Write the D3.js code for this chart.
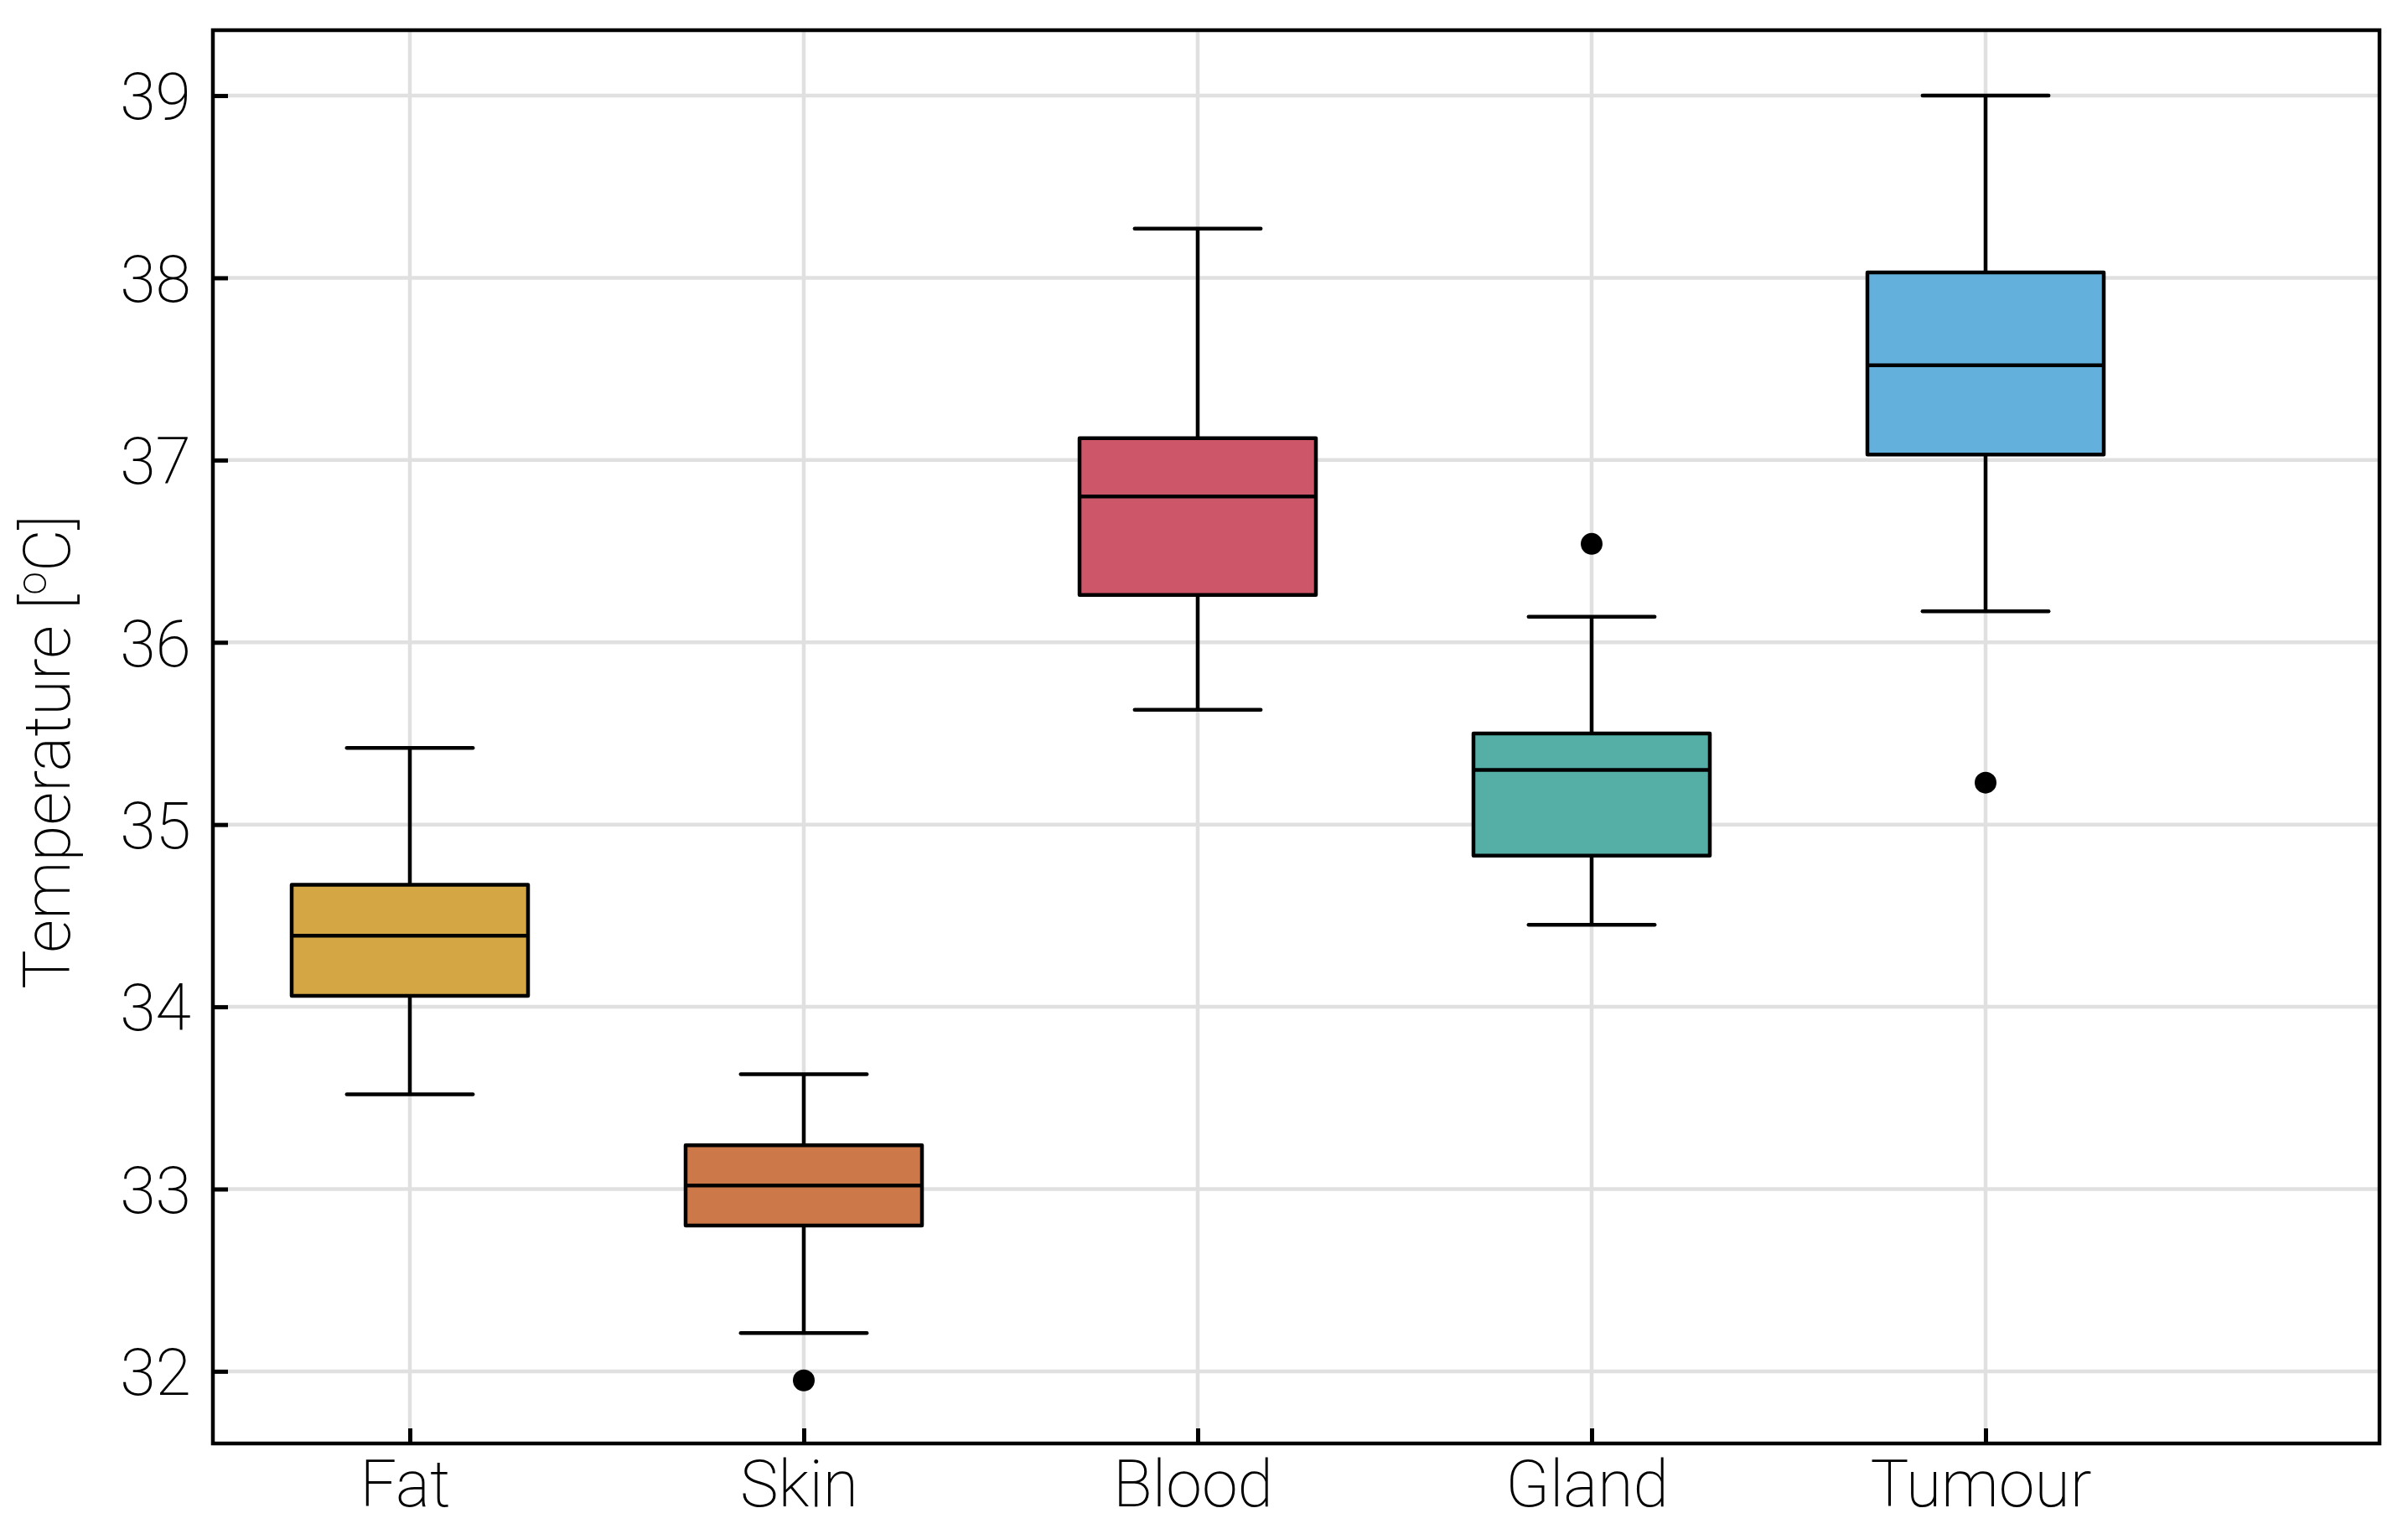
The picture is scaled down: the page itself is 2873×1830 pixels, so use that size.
<!DOCTYPE html>
<html>
<head>
<meta charset="utf-8">
<script src="https://cdn.jsdelivr.net/npm/d3@7"></script>
<style>
  body { margin: 0; background: #fff; }
  text { font-family: Roboto, "Liberation Sans", sans-serif; font-weight: 200; fill: #000; }
</style>
</head>
<body>
<svg id="chart"></svg>
<script>
// Box plot data
const categories = ["Fat", "Skin", "Blood", "Gland", "Tumour"];
const lowerWhisker = [33.52, 32.21, 35.63, 34.45, 36.17];
const q1 = [34.06, 32.80, 36.26, 34.83, 37.03];
const median = [34.39, 33.02, 36.80, 35.30, 37.52];
const q3 = [34.67, 33.24, 37.12, 35.50, 38.03];
const upperWhisker = [35.42, 33.63, 38.27, 36.14, 39.00];
const outliers = [[], [31.95], [], [36.54], [35.23]];
const yTicks = [32, 33, 34, 35, 36, 37, 38, 39];

const palette = ["#D5A644", "#CD7849", "#CD5668", "#55AFA7", "#63B0DD"];

const W = 2873, H = 1830;
const frame = { left: 254, right: 2839, top: 36, bottom: 1722 };

const svg = d3.select("#chart")
    .attr("width", W)
    .attr("height", H);

// Scales: categories placed at 1..5 on a linear axis
const x = d3.scaleLinear().domain([0.5, 6]).range([frame.left, frame.right]);
const y = d3.scaleLinear().domain([31.604, 39.359]).range([frame.bottom, frame.top]);
const color = d3.scaleOrdinal().domain(categories).range(palette);

const boxes = categories.map((c, i) => ({
    name: c, pos: i + 1,
    lo: lowerWhisker[i], q1: q1[i], med: median[i], q3: q3[i], hi: upperWhisker[i],
    out: outliers[i]
}));

const boxHalf = 0.3, capHalf = 0.16;
const lw = 4.5;

// Grid lines
svg.append("g").selectAll("line")
    .data(yTicks)
    .enter().append("line")
    .attr("x1", frame.left).attr("x2", frame.right)
    .attr("y1", d => y(d)).attr("y2", d => y(d))
    .attr("stroke", "#e0e0e0").attr("stroke-width", 4.5);

svg.append("g").selectAll("line")
    .data(boxes)
    .enter().append("line")
    .attr("x1", d => x(d.pos)).attr("x2", d => x(d.pos))
    .attr("y1", frame.top).attr("y2", frame.bottom)
    .attr("stroke", "#e0e0e0").attr("stroke-width", 4.5);

// Boxes
const g = svg.append("g").selectAll("g")
    .data(boxes)
    .enter().append("g");

g.append("line") // whisker stem
    .attr("x1", d => x(d.pos)).attr("x2", d => x(d.pos))
    .attr("y1", d => y(d.lo)).attr("y2", d => y(d.hi))
    .attr("stroke", "#000").attr("stroke-width", lw);

g.selectAll(".cap")
    .data(d => [d.lo, d.hi].map(v => ({ pos: d.pos, v })))
    .enter().append("line")
    .attr("class", "cap")
    .attr("x1", d => x(d.pos - capHalf)).attr("x2", d => x(d.pos + capHalf))
    .attr("y1", d => y(d.v)).attr("y2", d => y(d.v))
    .attr("stroke", "#000").attr("stroke-width", lw)
    .attr("stroke-linecap", "round");

g.append("rect")
    .attr("x", d => x(d.pos - boxHalf))
    .attr("width", d => x(d.pos + boxHalf) - x(d.pos - boxHalf))
    .attr("y", d => y(d.q3))
    .attr("height", d => y(d.q1) - y(d.q3))
    .attr("fill", d => color(d.name))
    .attr("stroke", "#000").attr("stroke-width", lw)
    .attr("stroke-linejoin", "round");

g.append("line") // median
    .attr("x1", d => x(d.pos - boxHalf)).attr("x2", d => x(d.pos + boxHalf))
    .attr("y1", d => y(d.med)).attr("y2", d => y(d.med))
    .attr("stroke", "#000").attr("stroke-width", lw);

g.selectAll(".outlier")
    .data(d => d.out.map(v => ({ pos: d.pos, v })))
    .enter().append("circle")
    .attr("class", "outlier")
    .attr("cx", d => x(d.pos)).attr("cy", d => y(d.v))
    .attr("r", 13)
    .attr("fill", "#000");

// Axes (ticks point inward)
const yAxis = svg.append("g")
    .attr("transform", `translate(${frame.left},0)`)
    .call(d3.axisLeft(y).tickValues(yTicks).tickSize(-18).tickPadding(26).tickFormat(d3.format("d")));
yAxis.select(".domain").remove();
yAxis.selectAll(".tick line").attr("stroke", "#000").attr("stroke-width", 5);
yAxis.selectAll(".tick text")
    .attr("font-size", 77).attr("dy", "0.36em")
    .style("font-family", "Roboto, 'Liberation Sans', sans-serif");

const xAxis = svg.append("g")
    .attr("transform", `translate(0,${frame.bottom})`)
    .call(d3.axisBottom(x).tickValues(boxes.map(d => d.pos)).tickSize(-18)
        .tickFormat(d => categories[d - 1]));
xAxis.select(".domain").remove();
xAxis.selectAll(".tick line").attr("stroke", "#000").attr("stroke-width", 5);
xAxis.selectAll(".tick text")
    .attr("font-size", 77).attr("y", 75).attr("dy", 0).attr("dx", -6)
    .style("font-family", "Roboto, 'Liberation Sans', sans-serif");

// Frame
svg.append("rect")
    .attr("x", frame.left).attr("y", frame.top)
    .attr("width", frame.right - frame.left)
    .attr("height", frame.bottom - frame.top)
    .attr("fill", "none")
    .attr("stroke", "#000").attr("stroke-width", 4.5);

// Y axis title
const title = svg.append("text")
    .attr("transform", `translate(83,897) rotate(-90)`)
    .attr("text-anchor", "middle")
    .attr("font-size", 78);
title.append("tspan").text("Temperature [");
title.append("tspan").text("o").attr("font-size", 50).attr("dy", -28);
title.append("tspan").text("C]").attr("dy", 28);
</script>
</body>
</html>
